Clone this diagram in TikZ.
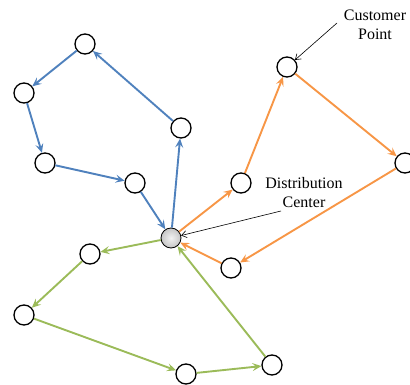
\documentclass[tikz,border=0pt]{standalone}
\usepackage{fontspec}
\setmainfont{Liberation Serif}
\usetikzlibrary{arrows.meta}
\definecolor{bl}{RGB}{79,129,189}
\definecolor{og}{RGB}{247,150,70}
\definecolor{gr}{RGB}{155,187,89}
\tikzset{
  cust/.style={circle,draw=black,line width=1.3pt,fill=white,minimum size=20pt,inner sep=0pt},
  depot/.style={circle,draw=black,line width=0.8pt,minimum size=20pt,inner sep=0pt,shading=radial,inner color=gray!10,outer color=gray!45},
  route/.style={line width=1.9pt,-{Stealth[length=9pt,width=8pt,inset=3.5pt]}},
  lbl/.style={font=\fontsize{16}{19}\selectfont,align=center},
  pointer/.style={line width=0.6pt,-{Straight Barb[length=5pt,width=7pt]}}
}
\begin{document}
\begin{tikzpicture}[x=1pt,y=-1pt]
\useasboundingbox (0,0) rectangle (410,385);
% nodes
\node[depot] (c) at (171,238) {};
\node[cust] (b1) at (85,44) {};
\node[cust] (b2) at (24,93) {};
\node[cust] (b3) at (45,163) {};
\node[cust] (b4) at (135,183) {};
\node[cust] (b5) at (181,128) {};
\node[cust] (o1) at (241,183) {};
\node[cust] (o2) at (287,67) {};
\node[cust] (o3) at (405,163) {};
\node[cust] (o4) at (231,268) {};
\node[cust] (g1) at (90,254) {};
\node[cust] (g2) at (24,315) {};
\node[cust] (g3) at (186,374) {};
\node[cust] (g4) at (272,365) {};
% routes
\draw[route,bl] (c) -- (b5);
\draw[route,bl] (b5) -- (b1);
\draw[route,bl] (b1) -- (b2);
\draw[route,bl] (b2) -- (b3);
\draw[route,bl] (b3) -- (b4);
\draw[route,bl] (b4) -- (c);
\draw[route,og] (c) -- (o1);
\draw[route,og] (o1) -- (o2);
\draw[route,og] (o2) -- (o3);
\draw[route,og] (o3) -- (o4);
\draw[route,og] (o4) -- (c);
\draw[route,gr] (c) -- (g1);
\draw[route,gr] (g1) -- (g2);
\draw[route,gr] (g2) -- (g3);
\draw[route,gr] (g3) -- (g4);
\draw[route,gr] (g4) -- (c);
% labels
\node[lbl] (cpt) at (375,25) {Customer\\Point};
\coordinate (cps) at (337,23);
\draw[pointer] (cps) -- (o2);
\node[lbl] (dc) at (304,193) {Distribution\\Center};
\coordinate (dcs) at (281,211);
\draw[pointer] (dcs) -- (c);
\end{tikzpicture}
\end{document}
